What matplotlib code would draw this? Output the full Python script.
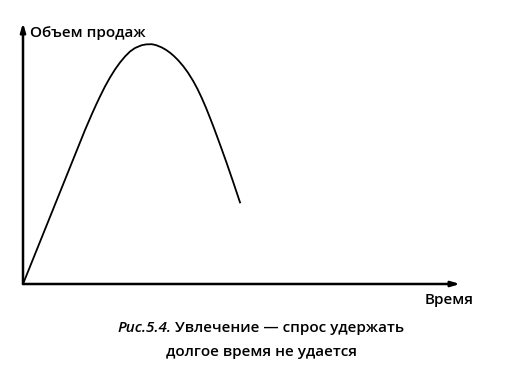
import matplotlib
matplotlib.use('Agg')
import matplotlib.pyplot as plt

# curve (time, sales volume), arbitrary units
time = [0, 14.19, 15.72, 16.70, 17.62, 18.76, 19.91, 21.05, 22.20, 23.34,
        24.49, 25.63, 27.16, 28.15, 29.45, 30.43, 31.74, 32.72, 33.64, 34.55,
        35.54, 36.68, 37.76, 38.97, 39.93, 40.89, 41.88, 42.79, 43.71, 44.69,
        45.65, 46.61, 48.05, 49.66]
sales = [0, 59.00, 64.94, 68.58, 71.84, 75.67, 79.12, 82.18, 84.87, 87.16,
         89.08, 90.42, 91.49, 91.80, 91.88, 91.53, 90.65, 89.71, 88.62, 87.32,
         85.67, 83.43, 80.96, 77.70, 74.71, 71.34, 67.51, 63.68, 59.69, 55.25,
         50.82, 46.32, 39.31, 31.26]

y_label = 'Объем продаж'
x_label = 'Время'
caption_num = 'Рис.5.4.'
caption_1 = ' Увлечение — спрос удержать'
caption_2 = 'долгое время не удается'

plt.rcParams['font.family'] = ['Open Sans', 'DejaVu Sans']

W, H = 528, 384
fig = plt.figure(figsize=(W / 100, H / 100), dpi=100)
ax = fig.add_axes([23 / W, 100 / H, 437 / W, 261 / H])
ax.set_xlim(0, 100)
ax.set_ylim(0, 100)
ax.axis('off')

ax.plot(time, sales, color='black', lw=1.3, solid_joinstyle='round')

arrow = dict(arrowstyle='-|>,head_length=0.5,head_width=0.15', color='black', lw=1.8,
             shrinkA=0, shrinkB=0)
ax.annotate('', xy=(1, 0), xytext=(0, 0), xycoords='axes fraction', arrowprops=arrow)
ax.annotate('', xy=(0, 1), xytext=(0, 0), xycoords='axes fraction', arrowprops=arrow)

font = dict(fontsize=11, fontweight='semibold', va='center')
fig.text(30 / W, 1 - 33 / H, y_label, ha='left', **font)
fig.text(474 / W, 1 - 300 / H, x_label, ha='right', **font)

# caption: italic figure number + plain text, two centred lines
cx = 261
t1 = fig.text(0, 1 - 328 / H, caption_num, style='italic', ha='left', **font)
t2 = fig.text(0, 1 - 328 / H, caption_1, ha='left', **font)
fig.canvas.draw()
w1 = t1.get_window_extent().width
w2 = t2.get_window_extent().width
x0 = cx - (w1 + w2) / 2
t1.set_x(x0 / W)
t2.set_x((x0 + w1) / W)
fig.text(cx / W, 1 - 352 / H, caption_2, ha='center', **font)

fig.savefig('out.png', dpi=100)
